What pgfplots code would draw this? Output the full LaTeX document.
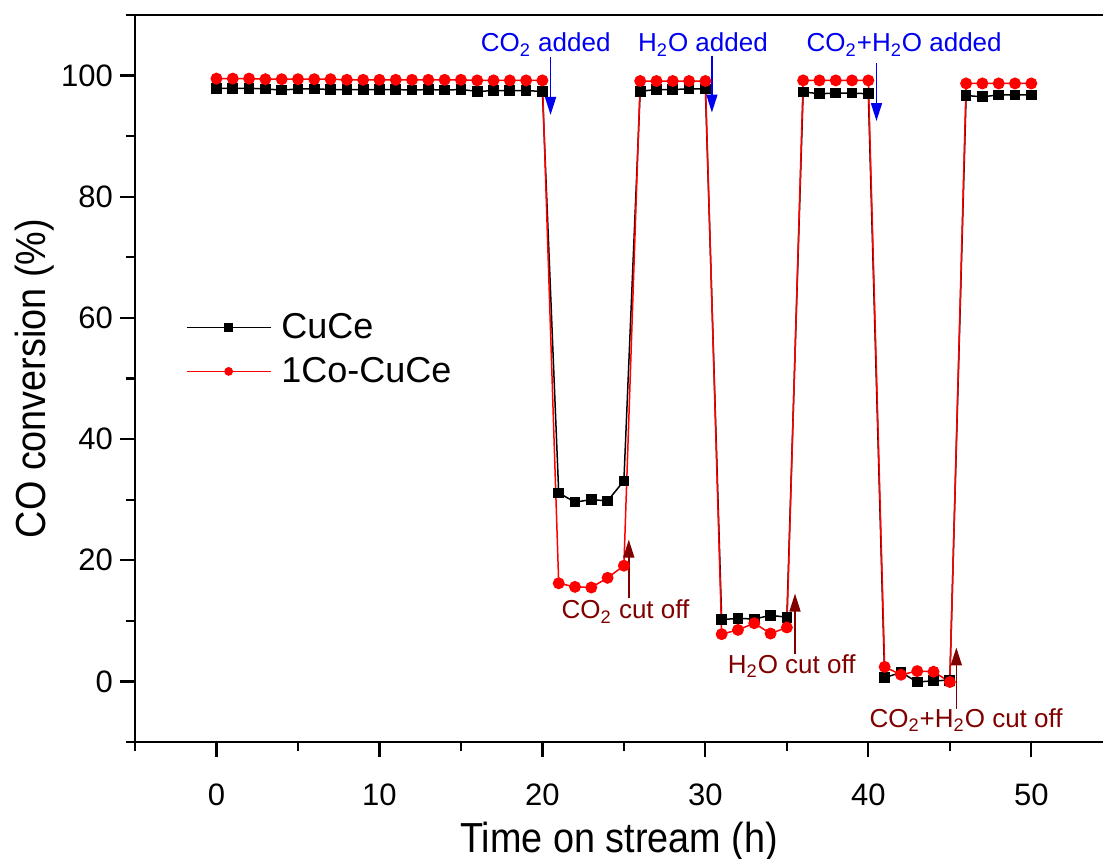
\documentclass[border=0pt]{standalone}
\usepackage{pgfplots}
\pgfplotsset{compat=1.18}
\usepackage{fontspec}
\setmainfont{Liberation Sans}
\usetikzlibrary{arrows.meta,calc}
\definecolor{cblue}{RGB}{0,0,240}
\definecolor{cmaroon}{RGB}{128,0,0}
\definecolor{cred}{RGB}{255,0,0}
\begin{document}
\begin{tikzpicture}
\begin{axis}[
  scale only axis,
  width=484pt, height=363.5pt,
  xmin=-5, xmax=54.4, ymin=-10, ymax=110,
  axis x line*=bottom, axis y line*=left,
  axis line style={line width=1.2pt},
  every tick/.style={black, line width=1.1pt},
  tick align=outside,
  major tick length=7.5pt, minor tick length=4.5pt,
  xtick={0,10,20,30,40,50}, minor xtick={-5,5,15,25,35,45},
  ytick={0,20,40,60,80,100}, minor ytick={-10,10,30,50,70,90,110},
  /pgf/number format/assume math mode=true,
  tick label style={font=\fontsize{15.5}{18}\selectfont},
  xticklabel style={yshift=-10pt},
  xlabel={Time on stream (h)},
  ylabel={CO conversion (\%)},
  label style={font=\fontsize{21}{24}\selectfont, xscale=0.9},
  xlabel style={at={(rel axis cs:0.5,0)}, anchor=center, yshift=-50pt},
  ylabel style={at={(rel axis cs:0,0.5)}, anchor=center, yshift=50pt},
  clip=false,
  legend style={draw=none, fill=none, at={(axis cs:-1.9,61.5)}, anchor=north west,
    font=\fontsize{18}{21}\selectfont, row sep=4pt, inner sep=0pt,
    nodes={inner xsep=5pt}},
  legend cell align=left,
  legend image code/.code={\draw[#1] (0pt,0pt) -- (42pt,0pt);
     \draw[#1, mark size=1.8pt] plot coordinates {(21pt,0pt)};},
]
\addplot[black, line width=0.75pt, mark=square*, mark size=2.3pt] coordinates {
(0,97.9)(1,97.9)(2,97.9)(3,97.8)(4,97.6)(5,97.8)(6,97.8)(7,97.7)(8,97.7)(9,97.7)(10,97.7)
(11,97.7)(12,97.6)(13,97.7)(14,97.6)(15,97.7)(16,97.4)(17,97.5)(18,97.5)(19,97.5)(20,97.4)
(21,31.1)(22,29.6)(23,30.0)(24,29.8)(25,33.1)
(26,97.4)(27,97.7)(28,97.7)(29,97.8)(30,97.8)
(31,10.2)(32,10.4)(33,10.3)(34,10.9)(35,10.6)
(36,97.3)(37,97.0)(38,97.1)(39,97.1)(40,97.0)
(41,0.6)(42,1.5)(43,-0.1)(44,0.1)(45,0.2)
(46,96.7)(47,96.5)(48,96.8)(49,96.8)(50,96.8)
};
\addlegendentry{CuCe}
\addplot[cred, line width=0.75pt, mark=*, mark size=2.6pt] coordinates {
(0,99.5)(1,99.5)(2,99.5)(3,99.4)(4,99.4)(5,99.4)(6,99.4)(7,99.4)(8,99.3)(9,99.3)(10,99.3)
(11,99.3)(12,99.3)(13,99.3)(14,99.3)(15,99.3)(16,99.2)(17,99.2)(18,99.2)(19,99.2)(20,99.2)
(21,16.2)(22,15.6)(23,15.5)(24,17.1)(25,19.1)
(26,99.1)(27,99.1)(28,99.1)(29,99.1)(30,99.1)
(31,7.8)(32,8.5)(33,9.6)(34,7.9)(35,8.9)
(36,99.2)(37,99.2)(38,99.2)(39,99.2)(40,99.2)
(41,2.4)(42,1.1)(43,1.7)(44,1.6)(45,-0.1)
(46,98.7)(47,98.7)(48,98.7)(49,98.7)(50,98.7)
};
\addlegendentry{1Co-CuCe}
% top spine
\draw[line width=1.2pt] (rel axis cs:0,1) -- (rel axis cs:1,1);
% annotations
\begin{scope}[every node/.style={font=\fontsize{13}{15}\selectfont, inner sep=0pt}]
\draw[cblue, line width=0.8pt, -{Triangle[length=9pt,width=5.5pt]}] (axis cs:20.5,103) -- (axis cs:20.5,93.5);
\node[cblue] at (axis cs:20.2,105.1) {CO\textsubscript{2} added};
\draw[cblue, line width=0.8pt, -{Triangle[length=9pt,width=5.5pt]}] (axis cs:30.4,103.3) -- (axis cs:30.4,93.9);
\node[cblue] at (axis cs:29.85,105.1) {H\textsubscript{2}O added};
\draw[cblue, line width=0.8pt, -{Triangle[length=9pt,width=5.5pt]}] (axis cs:40.5,102) -- (axis cs:40.5,92.5);
\node[cblue] at (axis cs:42.2,105.1) {CO\textsubscript{2}+H\textsubscript{2}O added};
\draw[cmaroon, line width=0.8pt, -{Triangle[length=9pt,width=5.5pt]}] (axis cs:25.3,13.7) -- (axis cs:25.3,23.4);
\node[cmaroon] at (axis cs:25.1,11.5) {CO\textsubscript{2} cut off};
\draw[cmaroon, line width=0.8pt, -{Triangle[length=9pt,width=5.5pt]}] (axis cs:35.5,4.6) -- (axis cs:35.5,14.5);
\node[cmaroon] at (axis cs:35.3,2.5) {H\textsubscript{2}O cut off};
\draw[cmaroon, line width=0.8pt, -{Triangle[length=9pt,width=5.5pt]}] (axis cs:45.4,-4.5) -- (axis cs:45.4,5.6);
\node[cmaroon] at (axis cs:46.0,-6.4) {CO\textsubscript{2}+H\textsubscript{2}O cut off};
\end{scope}
\end{axis}
\pgfresetboundingbox
\path[use as bounding box] ($(current axis.south west)+(-67.5pt,-58.5pt)$) rectangle ($(current axis.north east)+(0pt,7.5pt)$);
\end{tikzpicture}
\end{document}
